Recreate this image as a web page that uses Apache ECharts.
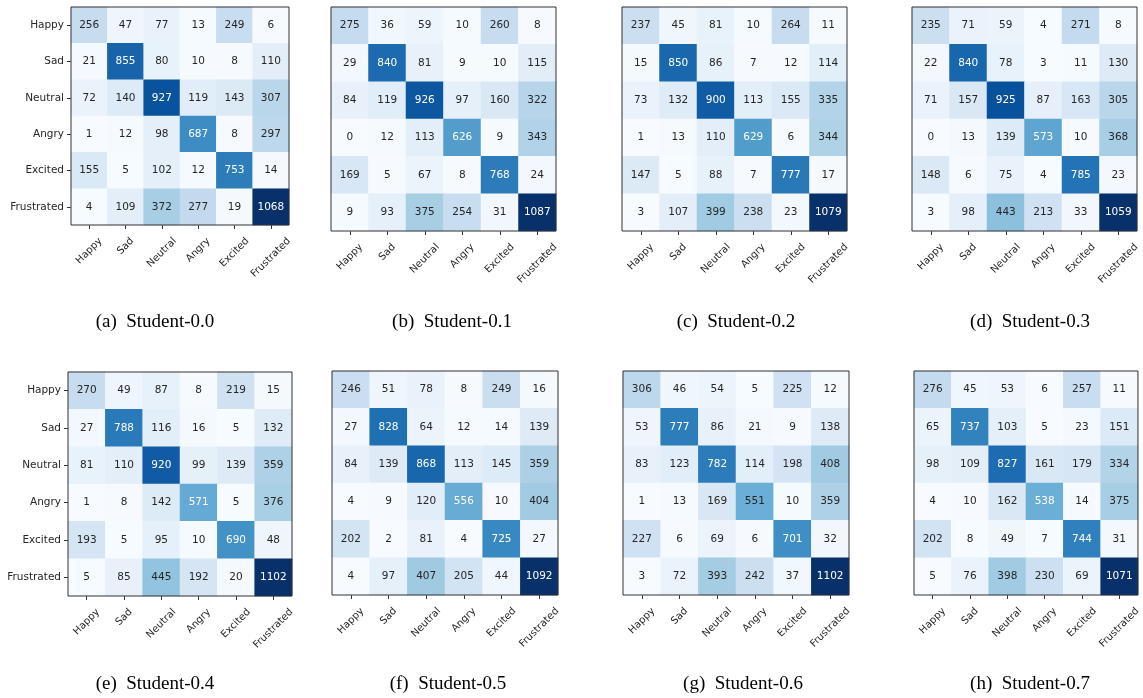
<!DOCTYPE html>
<html>
<head>
<meta charset="utf-8">
<title>Student confusion matrices</title>
<script src="https://cdn.jsdelivr.net/npm/echarts@6/dist/echarts.min.js"></script>
<style>
  html, body { margin: 0; padding: 0; background: #fff; }
  #main { width: 1143px; height: 698px; }
</style>
</head>
<body>
<div id="main"></div>
<script>
// emotion classes (rows = true, cols = predicted)
var emotions = ['Happy', 'Sad', 'Neutral', 'Angry', 'Excited', 'Frustrated'];

var student00 = [
  [256, 47, 77, 13, 249, 6],
  [21, 855, 80, 10, 8, 110],
  [72, 140, 927, 119, 143, 307],
  [1, 12, 98, 687, 8, 297],
  [155, 5, 102, 12, 753, 14],
  [4, 109, 372, 277, 19, 1068]
];
var student01 = [
  [275, 36, 59, 10, 260, 8],
  [29, 840, 81, 9, 10, 115],
  [84, 119, 926, 97, 160, 322],
  [0, 12, 113, 626, 9, 343],
  [169, 5, 67, 8, 768, 24],
  [9, 93, 375, 254, 31, 1087]
];
var student02 = [
  [237, 45, 81, 10, 264, 11],
  [15, 850, 86, 7, 12, 114],
  [73, 132, 900, 113, 155, 335],
  [1, 13, 110, 629, 6, 344],
  [147, 5, 88, 7, 777, 17],
  [3, 107, 399, 238, 23, 1079]
];
var student03 = [
  [235, 71, 59, 4, 271, 8],
  [22, 840, 78, 3, 11, 130],
  [71, 157, 925, 87, 163, 305],
  [0, 13, 139, 573, 10, 368],
  [148, 6, 75, 4, 785, 23],
  [3, 98, 443, 213, 33, 1059]
];
var student04 = [
  [270, 49, 87, 8, 219, 15],
  [27, 788, 116, 16, 5, 132],
  [81, 110, 920, 99, 139, 359],
  [1, 8, 142, 571, 5, 376],
  [193, 5, 95, 10, 690, 48],
  [5, 85, 445, 192, 20, 1102]
];
var student05 = [
  [246, 51, 78, 8, 249, 16],
  [27, 828, 64, 12, 14, 139],
  [84, 139, 868, 113, 145, 359],
  [4, 9, 120, 556, 10, 404],
  [202, 2, 81, 4, 725, 27],
  [4, 97, 407, 205, 44, 1092]
];
var student06 = [
  [306, 46, 54, 5, 225, 12],
  [53, 777, 86, 21, 9, 138],
  [83, 123, 782, 114, 198, 408],
  [1, 13, 169, 551, 10, 359],
  [227, 6, 69, 6, 701, 32],
  [3, 72, 393, 242, 37, 1102]
];
var student07 = [
  [276, 45, 53, 6, 257, 11],
  [65, 737, 103, 5, 23, 151],
  [98, 109, 827, 161, 179, 334],
  [4, 10, 162, 538, 14, 375],
  [202, 8, 49, 7, 744, 31],
  [5, 76, 398, 230, 69, 1071]
];

var matrices = [student00, student01, student02, student03, student04, student05, student06, student07];
var captions = ['(a)  Student-0.0', '(b)  Student-0.1', '(c)  Student-0.2', '(d)  Student-0.3',
                '(e)  Student-0.4', '(f)  Student-0.5', '(g)  Student-0.6', '(h)  Student-0.7'];

// panel boxes [left, top, width, height]
var boxes = [
  [71, 7, 218, 218], [331, 7, 225, 224], [622, 7, 225, 224], [912, 7, 225, 224],
  [68, 372, 224, 224], [332, 371, 226, 224], [623, 371, 226, 224], [914, 371, 225, 224]
];
var captionX = [150, 447, 731, 1025, 150, 443, 738, 1025];
var captionY = [308, 308, 308, 308, 670, 670, 670, 670];

// matplotlib Blues
var blues = ['#f7fbff', '#deebf7', '#c6dbef', '#9ecae1', '#6baed6', '#4292c6', '#2171b5', '#08519c', '#08306b'];
var txt = '#262626';
var tickFont = 10;

// x labels: rotated 45deg but centred under the tick (matplotlib ha=center),
// done with per-label rich padding sized from the measured text width
var measure = document.createElement('canvas').getContext('2d');
measure.font = tickFont + 'px "DejaVu Sans"';
var xRich = {};
emotions.forEach(function (name, k) {
  var pad = (measure.measureText(name).width + tickFont) / 2;
  xRich['k' + k] = { padding: [pad, pad, 0, 0], fontSize: tickFont, color: txt, fontFamily: 'DejaVu Sans' };
});

var grids = [], xAxes = [], yAxes = [], series = [], vmaps = [], titles = [];

for (var i = 0; i < 8; i++) {
  var m = matrices[i];
  var b = boxes[i];
  var flat = [].concat.apply([], m);
  var mn = Math.min.apply(null, flat), mx = Math.max.apply(null, flat);
  var thresh = mx / 2;
  var showY = (i === 0 || i === 4);

  grids.push({
    left: b[0], top: b[1], width: b[2], height: b[3],
    show: true, z: 10, backgroundColor: 'transparent',
    borderColor: '#333', borderWidth: 1
  });

  xAxes.push({
    type: 'category', gridIndex: i, data: emotions, position: 'bottom',
    axisLine: { show: false },
    axisTick: { show: true, alignWithLabel: true, length: 4, lineStyle: { color: '#333' } },
    axisLabel: {
      rotate: 45, align: 'center', verticalAlign: 'middle', margin: 11,
      fontSize: tickFont, color: txt, fontFamily: 'DejaVu Sans',
      formatter: function (v, idx) { return '{k' + idx + '|' + v + '}'; },
      rich: xRich
    },
    splitLine: { show: false }
  });

  yAxes.push({
    type: 'category', gridIndex: i, data: emotions, inverse: true,
    axisLine: { show: false },
    axisTick: { show: showY, alignWithLabel: true, length: 4, lineStyle: { color: '#333' } },
    axisLabel: { show: showY, fontSize: 10.5, color: txt, margin: 7, fontFamily: 'DejaVu Sans' },
    splitLine: { show: false }
  });

  var data = [];
  for (var r = 0; r < 6; r++) {
    for (var c = 0; c < 6; c++) {
      var v = m[r][c];
      data.push({ value: [c, r, v], label: { color: v > thresh ? '#ffffff' : txt } });
    }
  }

  series.push({
    type: 'heatmap', xAxisIndex: i, yAxisIndex: i, data: data,
    itemStyle: { borderWidth: 0 },
    label: {
      show: true, fontSize: 10.5, fontFamily: 'DejaVu Sans',
      formatter: function (p) { return p.value[2]; }
    },
    emphasis: { disabled: true }
  });

  vmaps.push({
    show: false, type: 'continuous', seriesIndex: i, dimension: 2,
    min: mn, max: mx, inRange: { color: blues }
  });

  titles.push({
    text: captions[i], left: captionX[i], top: captionY[i], textAlign: 'center',
    textStyle: { fontFamily: 'Liberation Serif', fontSize: 19, fontWeight: 'normal', color: '#000' }
  });
}

var option = {
  backgroundColor: '#fff',
  animation: false,
  title: titles,
  grid: grids,
  xAxis: xAxes,
  yAxis: yAxes,
  visualMap: vmaps,
  series: series
};

var chart = echarts.init(document.getElementById('main'));
chart.setOption(option);
</script>
</body>
</html>
